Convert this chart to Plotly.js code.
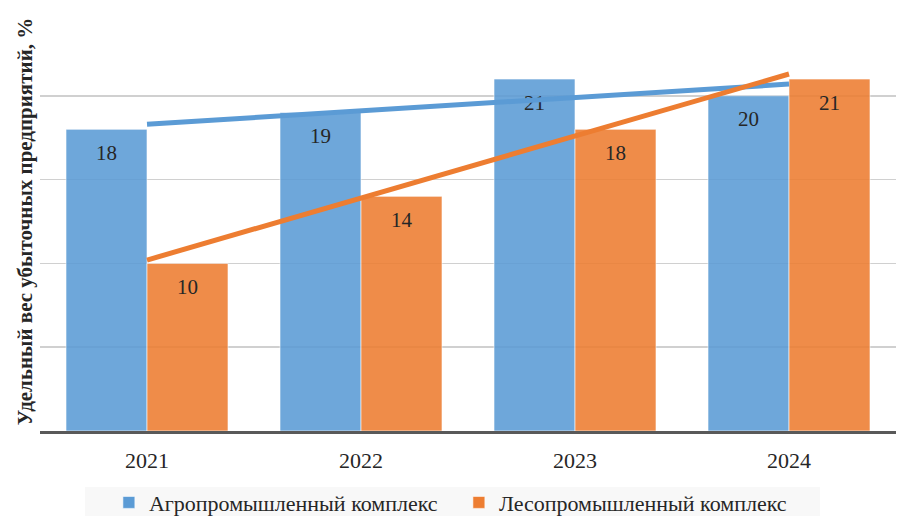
<!DOCTYPE html>
<html>
<head>
<meta charset="utf-8">
<script src="https://cdn.plot.ly/plotly-3.0.1.min.js"></script>
<style>html,body{margin:0;padding:0;background:#fff;}#chart{width:898px;height:516px;}</style>
</head>
<body>
<div id="chart"></div>
<script>
const years = ['2021', '2022', '2023', '2024'];
const agroName = 'Агропромышленный комплекс';
const lesName = 'Лесопромышленный комплекс';
const agroValues = [18, 19, 21, 20];
const lesValues = [10, 14, 18, 21];
const yTitle = 'Удельный вес убыточных предприятий, %';

// linear trendline (least squares) as in the spreadsheet chart
function trend(vals) {
  const n = vals.length;
  const xs = vals.map((_, i) => i + 1);
  const mx = xs.reduce((a, b) => a + b, 0) / n;
  const my = vals.reduce((a, b) => a + b, 0) / n;
  let num = 0, den = 0;
  for (let i = 0; i < n; i++) { num += (xs[i] - mx) * (vals[i] - my); den += (xs[i] - mx) ** 2; }
  const k = num / den;
  return xs.map(x => my + k * (x - mx));
}

const serif = "'Liberation Serif', 'Times New Roman', 'DejaVu Serif', serif";
const blue = '#5b9bd5', orange = '#ed7d31';
const GAP = 0.243;

const traces = [
  {type: 'bar', name: agroName, x: years, y: agroValues, offsetgroup: 'a', hoverinfo: 'skip',
   marker: {color: blue, opacity: 0.88, line: {color: 'rgba(255,255,255,0.6)', width: 1}}},
  {type: 'bar', name: lesName, x: years, y: lesValues, offsetgroup: 'b', hoverinfo: 'skip',
   marker: {color: orange, opacity: 0.88, line: {color: 'rgba(255,255,255,0.6)', width: 1}}},
  {type: 'scatter', mode: 'markers+text', x: years, y: agroValues, text: agroValues.map(String),
   marker: {size: 22, color: 'rgba(0,0,0,0)'},
   textposition: 'bottom center', textfont: {family: serif, size: 21, color: '#262626'},
   showlegend: false, hoverinfo: 'skip', offsetgroup: 'a', cliponaxis: false},
  {type: 'scatter', mode: 'markers+text', x: years, y: lesValues, text: lesValues.map(String),
   marker: {size: 22, color: 'rgba(0,0,0,0)'},
   textposition: 'bottom center', textfont: {family: serif, size: 21, color: '#262626'},
   showlegend: false, hoverinfo: 'skip', offsetgroup: 'b', cliponaxis: false},
  {type: 'scatter', mode: 'lines', x: years, y: trend(agroValues), xaxis: 'x2', offsetgroup: 't', showlegend: false,
   line: {color: blue, width: 5}, hoverinfo: 'skip'},
  {type: 'scatter', mode: 'lines', x: years, y: trend(lesValues), xaxis: 'x2', offsetgroup: 't', showlegend: false,
   line: {color: orange, width: 5}, hoverinfo: 'skip'}
];

const layout = {
  width: 898, height: 516,
  margin: {l: 40, r: 2, t: 12, b: 85},
  paper_bgcolor: '#ffffff', plot_bgcolor: '#ffffff',
  barmode: 'group', bargap: GAP, bargroupgap: 0,
  scattermode: 'group', scattergap: GAP,
  font: {family: serif, size: 21, color: '#262626'},
  xaxis: {type: 'category', range: [-0.5, 3.5], showgrid: false, showline: true, linecolor: '#595959', linewidth: 2.5,
          ticks: '', tickfont: {family: serif, size: 22, color: '#262626'}, ticklabelstandoff: 8},
  xaxis2: {type: 'category', range: [-0.5, 3.5], overlaying: 'x', visible: false, categoryarray: years, categoryorder: 'array'},
  yaxis: {range: [0, 25], dtick: 5, showticklabels: false, gridcolor: '#d0d0d0', gridwidth: 1.5,
          zeroline: false, showline: false, ticks: '',
          title: {text: yTitle, font: {family: serif, size: 21, color: '#262626', weight: 'bold'}, standoff: 0}},
  legend: {orientation: 'h', xref: 'container', yref: 'container', x: 0.511, xanchor: 'center', y: 0.026, yanchor: 'middle',
           bgcolor: 'rgba(0,0,0,0)', font: {family: serif, size: 22, color: '#262626'},
           entrywidth: 305, traceorder: 'normal'},
  shapes: [{type: 'rect', xref: 'paper', yref: 'paper', x0: 45/856, x1: 780/856,
            y0: (431 - 520) / 419, y1: (431 - 487) / 419, fillcolor: '#f8f8f8', line: {width: 0}, layer: 'below'}],
  showlegend: true
};

Plotly.newPlot('chart', traces, layout, {displayModeBar: false, staticPlot: true});
</script>
</body>
</html>
